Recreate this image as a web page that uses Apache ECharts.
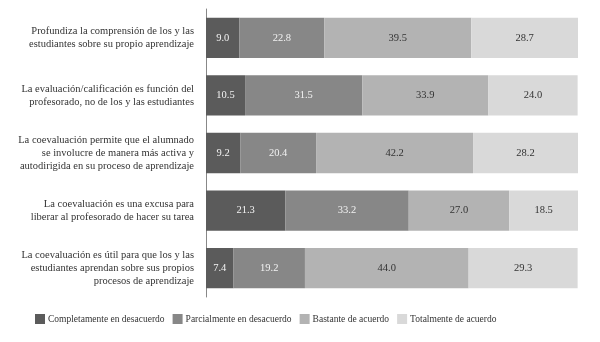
<!DOCTYPE html>
<html>
<head>
<meta charset="utf-8">
<script src="https://cdn.jsdelivr.net/npm/echarts@6/dist/echarts.min.js"></script>
<style>
  html, body { margin: 0; padding: 0; background: #fff; }
  #chart { width: 600px; height: 342px; }
</style>
</head>
<body>
<div id="chart"></div>
<script>
// Statements, top to bottom
const categories = [
  'Profundiza la comprensión de los y las\nestudiantes sobre su propio aprendizaje',
  'La evaluación/calificación es función del\nprofesorado, no de los y las estudiantes',
  'La coevaluación permite que el alumnado\nse involucre de manera más activa y\nautodirigida en su proceso de aprendizaje',
  'La coevaluación es una excusa para\nliberar al profesorado de hacer su tarea',
  'La coevaluación es útil para que los y las\nestudiantes aprendan sobre sus propios\nprocesos de aprendizaje'
];

const seriesNames = [
  'Completamente en desacuerdo',
  'Parcialmente en desacuerdo',
  'Bastante de acuerdo',
  'Totalmente de acuerdo'
];

// Percentages per answer option
const completamente = [9.0, 10.5, 9.2, 21.3, 7.4];
const parcialmente  = [22.8, 31.5, 20.4, 33.2, 19.2];
const bastante      = [39.5, 33.9, 42.2, 27.0, 44.0];
const totalmente    = [28.7, 24.0, 28.2, 18.5, 29.3];

const values = [completamente, parcialmente, bastante, totalmente];
const colors = ['#5b5b5b', '#878787', '#b3b3b3', '#d9d9d9'];
const labelColors = ['#f2f2f2', '#f2f2f2', '#333333', '#333333'];
const serif = '"Liberation Serif", "DejaVu Serif", serif';

const chart = echarts.init(document.getElementById('chart'), null, { renderer: 'canvas' });

chart.setOption({
  animation: false,
  textStyle: { fontFamily: serif },
  grid: { left: 206, right: 22, top: 9, bottom: 45 },
  legend: {
    left: 35,
    top: 314,
    padding: 0,
    itemWidth: 10,
    itemHeight: 10,
    itemGap: 8,
    icon: 'rect',
    textStyle: { fontFamily: serif, fontSize: 9.5, color: '#333', padding: [0, 0, 0, -2] },
    data: seriesNames
  },
  xAxis: {
    type: 'value',
    min: 0,
    max: 100,
    show: false
  },
  yAxis: {
    type: 'category',
    inverse: true,
    data: categories,
    axisLine: { show: true, lineStyle: { color: '#888', width: 1 } },
    axisTick: { show: false },
    axisLabel: {
      fontFamily: serif,
      fontSize: 10.5,
      color: '#333',
      lineHeight: 13,
      align: 'right',
      margin: 12
    }
  },
  series: values.map((v, i) => ({
    name: seriesNames[i],
    type: 'bar',
    stack: 'total',
    data: v,
    barCategoryGap: '30%',
    itemStyle: { color: colors[i] },
    label: {
      show: true,
      position: 'inside',
      fontFamily: serif,
      fontSize: 10.5,
      color: labelColors[i],
      formatter: p => p.value.toFixed(1)
    }
  }))
});
</script>
</body>
</html>
